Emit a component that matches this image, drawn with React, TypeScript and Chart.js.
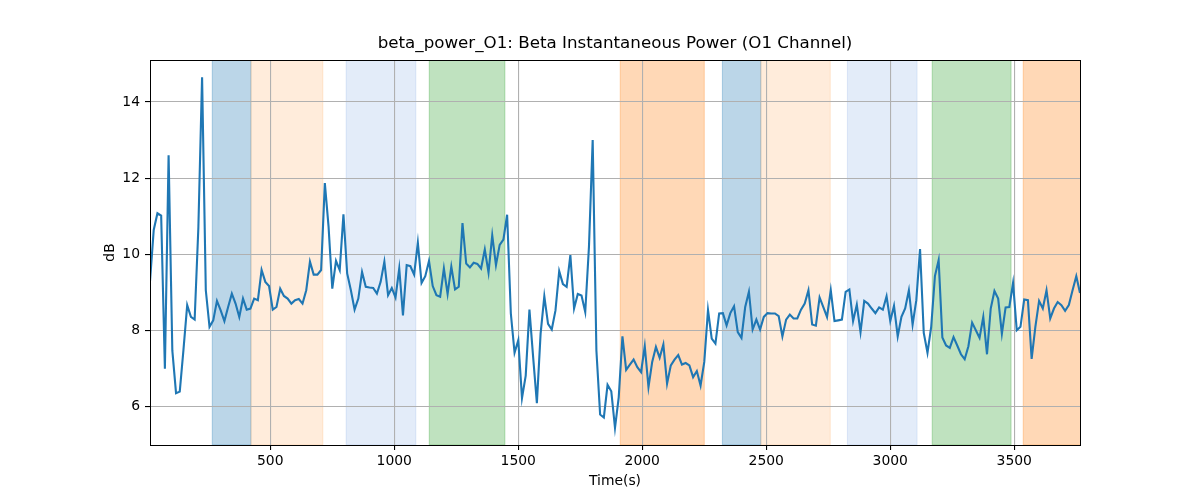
import React, { useEffect, useRef } from 'react';
import { Chart, registerables } from 'chart.js';

Chart.register(...registerables);

// beta power (dB), one value every 15 s starting at t = 15 s
const betaPower: number[] = [
  9.3, 10.64, 11.08, 11.02, 7.0, 12.6, 7.48, 6.36, 6.4, 7.5,
  8.67, 8.36, 8.29, 10.7, 14.65, 9.06, 8.1, 8.27, 8.78, 8.53,
  8.25, 8.62, 8.97, 8.71, 8.36, 8.84, 8.55, 8.58, 8.84, 8.8,
  9.59, 9.28, 9.17, 8.55, 8.62, 9.1, 8.91, 8.84, 8.71, 8.8,
  8.83, 8.71, 9.06, 9.81, 9.47, 9.47, 9.59, 11.87, 10.73, 9.1,
  9.83, 9.59, 11.05, 9.5, 9.06, 8.55, 8.84, 9.54, 9.15, 9.13,
  9.12, 8.97, 9.28, 9.81, 8.93, 9.12, 8.87, 9.63, 8.4, 9.72,
  9.69, 9.47, 10.31, 9.25, 9.43, 9.83, 9.17, 8.93, 8.89, 9.63,
  8.96, 9.68, 9.08, 9.15, 10.82, 9.76, 9.66, 9.78, 9.75, 9.63,
  10.13, 9.52, 10.5, 9.72, 10.25, 10.39, 11.04, 8.45, 7.42, 7.75,
  6.23, 6.82, 8.55, 7.3, 6.1, 7.92, 8.9, 8.18, 8.03, 8.53,
  9.56, 9.22, 9.15, 9.98, 8.58, 8.96, 8.92, 8.49, 10.2, 13.0,
  7.48, 5.8, 5.72, 6.58, 6.41, 5.45, 6.25, 7.85, 6.97, 7.11,
  7.24, 7.04, 6.91, 7.59, 6.52, 7.18, 7.57, 7.29, 7.64, 6.61,
  7.09, 7.24, 7.36, 7.11, 7.15, 7.09, 6.78, 6.94, 6.56, 7.18,
  8.54, 7.79, 7.66, 8.45, 8.46, 8.14, 8.46, 8.64, 7.96, 7.81,
  8.62, 9.02, 8.03, 8.29, 8.03, 8.36, 8.46, 8.45, 8.45, 8.38,
  7.85, 8.29, 8.42, 8.32, 8.32, 8.55, 8.71, 9.06, 8.16, 8.13,
  8.87, 8.62, 8.36, 9.06, 8.25, 8.27, 8.29, 9.02, 9.08, 8.25,
  8.68, 7.96, 8.78, 8.71, 8.58, 8.46, 8.61, 8.55, 8.9, 8.25,
  8.65, 7.85, 8.36, 8.58, 9.06, 8.16, 8.8, 10.14, 7.94, 7.42,
  8.1, 9.43, 9.85, 7.82, 7.61, 7.55, 7.83, 7.61, 7.38, 7.25,
  7.59, 8.21, 8.01, 7.81, 8.36, 7.38, 8.58, 9.04, 8.84, 7.92,
  8.61, 8.62, 9.25, 8.01, 8.1, 8.82, 8.8, 7.26, 8.1, 8.78,
  8.58, 9.06, 8.32, 8.58, 8.75, 8.67, 8.52, 8.67, 9.06, 9.43,
  8.99,
];
const T0 = 15;
const DT = 15;

// shaded task segments (seconds)
const spanStart = [266, 422, 806, 1141, 1911, 2323, 2478, 2827, 3169, 3536];
const spanEnd = [422, 712, 1087, 1446, 2250, 2478, 2758, 3108, 3487, 3800];
const spanKind = [0, 1, 2, 3, 4, 0, 1, 2, 3, 4];

const xTicks = [500, 1000, 1500, 2000, 2500, 3000, 3500];
const yTicks = [6, 8, 10, 12, 14];

const TITLE = 'beta_power_O1: Beta Instantaneous Power (O1 Channel)';

const KIND_COLORS = [
  'rgba(31,119,180,0.3)',
  'rgba(255,127,14,0.15)',
  'rgba(60,120,210,0.14)',
  'rgba(44,160,44,0.3)',
  'rgba(255,127,14,0.3)',
];

const FONT = 'DejaVu Sans';
const TICK_SIZE = 13.9;

const spansPlugin = {
  id: 'spans',
  beforeDraw(chart: any) {
    const { ctx, chartArea, scales } = chart;
    ctx.save();
    ctx.beginPath();
    ctx.rect(chartArea.left, chartArea.top, chartArea.right - chartArea.left, chartArea.bottom - chartArea.top);
    ctx.clip();
    spanStart.forEach((s, i) => {
      const x0 = scales.x.getPixelForValue(s);
      const x1 = scales.x.getPixelForValue(spanEnd[i]);
      ctx.fillStyle = KIND_COLORS[spanKind[i]];
      ctx.strokeStyle = KIND_COLORS[spanKind[i]];
      ctx.lineWidth = 1;
      ctx.fillRect(x0, chartArea.top, x1 - x0, chartArea.bottom - chartArea.top);
      ctx.strokeRect(x0, chartArea.top, x1 - x0, chartArea.bottom - chartArea.top);
    });
    ctx.restore();
  },
};

// axes frame on all four sides + title centred over the plot area
const framePlugin = {
  id: 'frame',
  afterDatasetsDraw(chart: any) {
    const { ctx, chartArea } = chart;
    ctx.save();
    ctx.strokeStyle = '#000';
    ctx.lineWidth = 1;
    ctx.strokeRect(
      Math.round(chartArea.left) + 0.5,
      Math.round(chartArea.top) + 0.5,
      Math.round(chartArea.right - chartArea.left),
      Math.round(chartArea.bottom - chartArea.top)
    );
    ctx.fillStyle = '#000';
    ctx.font = `16.7px "${FONT}"`;
    ctx.textAlign = 'center';
    ctx.textBaseline = 'alphabetic';
    ctx.fillText(TITLE, (chartArea.left + chartArea.right) / 2, chartArea.top - 12);
    ctx.restore();
  },
};

const App: React.FC = () => {
  const canvasRef = useRef<HTMLCanvasElement | null>(null);

  useEffect(() => {
    if (!canvasRef.current) return;
    const ctx = canvasRef.current.getContext('2d');
    if (!ctx) return;

    const points = betaPower.map((v, i) => ({ x: T0 + DT * i, y: v }));

    const chart = new Chart(ctx, {
      type: 'line',
      data: {
        datasets: [
          {
            label: 'beta_power_O1',
            data: points,
            borderColor: '#1f77b4',
            borderWidth: 2.1,
            pointRadius: 0,
            tension: 0,
          },
        ],
      },
      options: {
        animation: false,
        responsive: true,
        maintainAspectRatio: false,
        layout: { padding: { top: 60, left: 0, right: 120, bottom: 0 } },
        plugins: {
          legend: { display: false },
          tooltip: { enabled: false },
          title: { display: false },
        },
        scales: {
          x: {
            type: 'linear',
            min: T0,
            max: T0 + DT * (betaPower.length - 1),
            afterBuildTicks: (scale: any) => {
              scale.ticks = xTicks.map((v) => ({ value: v }));
            },
            afterFit: (scale: any) => {
              scale.height = 55;
            },
            grid: { color: '#b0b0b0', lineWidth: 1.1, tickColor: '#000', tickLength: 5 },
            border: { display: false },
            ticks: {
              color: '#000',
              padding: 3,
              maxRotation: 0,
              font: { family: FONT, size: TICK_SIZE },
              callback: (v: any) => String(v),
            },
            title: {
              display: true,
              text: 'Time(s)',
              color: '#000',
              font: { family: FONT, size: TICK_SIZE },
              padding: { top: 0, bottom: 10 },
            },
          },
          y: {
            type: 'linear',
            min: 5,
            max: 15.1,
            afterBuildTicks: (scale: any) => {
              scale.ticks = yTicks.map((v) => ({ value: v }));
            },
            afterFit: (scale: any) => {
              scale.width = 150;
            },
            grid: { color: '#b0b0b0', lineWidth: 1.1, tickColor: '#000', tickLength: 5 },
            border: { display: false },
            ticks: {
              color: '#000',
              padding: 5,
              font: { family: FONT, size: TICK_SIZE },
              callback: (v: any) => String(v),
            },
            title: {
              display: true,
              text: 'dB',
              color: '#000',
              font: { family: FONT, size: TICK_SIZE },
              padding: { top: 102, bottom: 0 },
            },
          },
        },
      },
      plugins: [spansPlugin, framePlugin],
    });

    return () => {
      chart.destroy();
    };
  }, []);

  return (
    <div style={{ position: 'fixed', left: 0, top: 0, width: 1200, height: 500, background: '#fff' }}>
      <canvas ref={canvasRef} />
    </div>
  );
};

export default App;
